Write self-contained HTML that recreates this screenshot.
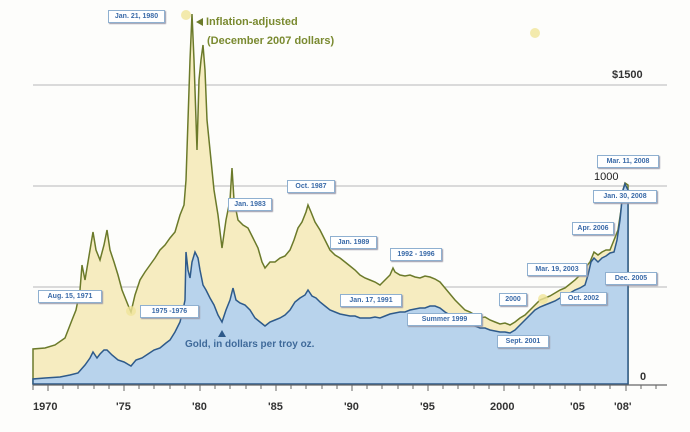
<!DOCTYPE html>
<html><head><meta charset="utf-8"><style>
body{margin:0;background:#fff;}
.b{position:absolute;background:#fff;border:1px solid #8fb0d0;box-shadow:1px 1px 1px #99a;color:#3a6aa8;font:bold 7px "Liberation Sans",sans-serif;line-height:11px;text-align:center;white-space:nowrap;}
.t{position:absolute;font-family:"Liberation Sans",sans-serif;font-weight:bold;white-space:nowrap;}
</style></head><body>
<div style="position:relative;width:690px;height:432px;overflow:hidden;background:#fdfdfb">
<svg width="690" height="432" style="position:absolute;left:0;top:0">
<g stroke="#b8b8b8" stroke-width="1">
<line x1="33" y1="85" x2="667" y2="85"/><line x1="33" y1="186" x2="667" y2="186"/><line x1="33" y1="287" x2="667" y2="287"/>
</g>
<polygon fill="#f6ecc0" stroke="#6b7a2a" stroke-width="1.5" points="33,384 33,349 45,348 55,345 65,338 72,320 76,310 78,300 80,290 82,265 85,280 88,262 93,232 96,250 100,260 104,245 107,230 110,250 114,262 118,275 122,290 128,305 131,312 135,295 140,280 145,272 150,265 155,258 160,250 165,245 170,238 175,232 180,215 184,205 186,180 188,120 190,60 192,14 194,60 196,120 197,150 199,80 201,60 203,45 205,70 207,120 210,150 214,190 218,215 222,248 226,220 230,200 232,168 234,200 238,220 243,225 248,228 253,238 258,248 262,262 265,268 270,262 275,262 280,258 285,256 290,250 294,240 298,228 302,222 306,212 308,205 311,212 315,222 320,230 325,240 330,250 335,255 340,258 345,262 350,266 355,270 360,275 365,278 370,280 375,282 380,285 385,280 390,275 393,268 395,272 400,275 405,276 410,275 415,277 420,278 425,276 430,277 435,279 440,282 445,288 450,294 455,300 460,305 465,310 470,312 475,315 480,318 485,317 490,320 495,322 500,324 505,323 510,325 515,322 520,318 525,315 530,310 535,305 540,300 545,298 550,296 555,293 560,290 565,288 570,284 575,280 580,275 585,268 590,262 594,252 598,255 602,252 606,250 610,250 614,240 618,230 621,210 623,190 625,183 628,185 628,384"/>
<polygon fill="#b8d3ec" stroke="#2e5a8a" stroke-width="1.5" points="33,384 33,379 45,378 60,377 70,375 78,373 85,365 90,358 93,352 97,358 100,354 104,350 107,350 112,355 118,360 124,362 131,366 136,360 142,358 148,354 154,350 160,348 166,343 170,340 175,332 180,322 183,310 185,300 186,252 188,270 190,278 192,262 195,252 198,258 200,270 203,285 206,290 210,298 214,305 218,315 222,322 226,310 230,300 233,288 236,300 240,303 245,305 250,310 255,318 260,322 265,326 270,322 275,320 280,318 285,315 290,310 295,302 300,298 305,295 308,290 312,296 316,298 320,302 325,306 330,310 335,312 340,314 345,315 350,316 355,316 360,318 365,318 370,318 375,317 380,318 385,316 390,314 395,313 400,312 405,312 410,310 415,309 420,308 425,308 430,306 435,306 440,308 445,312 450,315 455,318 460,320 465,322 470,324 475,326 480,328 485,328 490,330 495,331 500,332 505,332 510,333 515,330 520,325 525,320 530,315 535,310 540,307 545,305 550,303 555,301 560,298 565,296 570,293 575,290 580,288 585,285 588,275 591,262 594,258 598,262 602,258 606,256 610,253 614,252 617,240 620,220 623,190 625,184 628,190 628,384"/>
<line x1="33" y1="385" x2="667" y2="385" stroke="#666" stroke-width="1.2"/>
<g stroke="#666" stroke-width="1">
<line x1="33" y1="385" x2="33" y2="390"/><line x1="48" y1="385" x2="48" y2="391"/><line x1="63" y1="385" x2="63" y2="389"/><line x1="78" y1="385" x2="78" y2="389"/><line x1="94" y1="385" x2="94" y2="389"/><line x1="109" y1="385" x2="109" y2="389"/><line x1="124" y1="385" x2="124" y2="391"/><line x1="139" y1="385" x2="139" y2="389"/><line x1="154" y1="385" x2="154" y2="389"/><line x1="170" y1="385" x2="170" y2="389"/><line x1="185" y1="385" x2="185" y2="389"/><line x1="200" y1="385" x2="200" y2="391"/><line x1="215" y1="385" x2="215" y2="389"/><line x1="230" y1="385" x2="230" y2="389"/><line x1="246" y1="385" x2="246" y2="389"/><line x1="261" y1="385" x2="261" y2="389"/><line x1="276" y1="385" x2="276" y2="391"/><line x1="291" y1="385" x2="291" y2="389"/><line x1="306" y1="385" x2="306" y2="389"/><line x1="322" y1="385" x2="322" y2="389"/><line x1="337" y1="385" x2="337" y2="389"/><line x1="352" y1="385" x2="352" y2="391"/><line x1="367" y1="385" x2="367" y2="389"/><line x1="382" y1="385" x2="382" y2="389"/><line x1="398" y1="385" x2="398" y2="389"/><line x1="413" y1="385" x2="413" y2="389"/><line x1="428" y1="385" x2="428" y2="391"/><line x1="443" y1="385" x2="443" y2="389"/><line x1="458" y1="385" x2="458" y2="389"/><line x1="474" y1="385" x2="474" y2="389"/><line x1="489" y1="385" x2="489" y2="389"/><line x1="504" y1="385" x2="504" y2="391"/><line x1="519" y1="385" x2="519" y2="389"/><line x1="534" y1="385" x2="534" y2="389"/><line x1="550" y1="385" x2="550" y2="389"/><line x1="565" y1="385" x2="565" y2="389"/><line x1="580" y1="385" x2="580" y2="391"/><line x1="595" y1="385" x2="595" y2="389"/><line x1="610" y1="385" x2="610" y2="389"/><line x1="626" y1="385" x2="626" y2="391"/><line x1="641" y1="385" x2="641" y2="389"/><line x1="656" y1="385" x2="656" y2="389"/>
</g>
<polygon points="196,22 203,18 203,26" fill="#6b7a2a"/>
<polygon points="222,330 218,337 226,337" fill="#2e5a8a"/>
<g fill="#f0e59a" opacity="0.8"><circle cx="186" cy="15" r="5"/><circle cx="131" cy="311" r="5"/><circle cx="535" cy="33" r="5"/><circle cx="543" cy="299" r="5"/></g>
</svg>
<div class="t" style="left:206px;top:16px;font-size:11px;color:#7a8a30">Inflation-adjusted</div>
<div class="t" style="left:207px;top:35px;font-size:11px;color:#7a8a30">(December 2007 dollars)</div>
<div class="t" style="left:185px;top:339px;font-size:10px;color:#3f6a9a">Gold, in dollars per troy oz.</div>
<div class="t" style="left:612px;top:69px;font-size:11px;color:#333">$1500</div>
<div class="t" style="left:594px;top:171px;font-size:11px;color:#222;font-weight:normal">1000</div>
<div class="t" style="left:640px;top:371px;font-size:11px;color:#333">0</div>
<div class="t" style="left:33px;top:401px;font-size:11px;color:#333">1970</div>
<div class="t" style="left:116px;top:401px;font-size:11px;color:#333">'75</div>
<div class="t" style="left:192px;top:401px;font-size:11px;color:#333">'80</div>
<div class="t" style="left:268px;top:401px;font-size:11px;color:#333">'85</div>
<div class="t" style="left:344px;top:401px;font-size:11px;color:#333">'90</div>
<div class="t" style="left:420px;top:401px;font-size:11px;color:#333">'95</div>
<div class="t" style="left:490px;top:401px;font-size:11px;color:#333">2000</div>
<div class="t" style="left:570px;top:401px;font-size:11px;color:#333">'05</div>
<div class="t" style="left:614px;top:401px;font-size:11px;color:#333">'08'</div>
<div class="b" style="left:108px;top:10px;width:55px">Jan. 21, 1980</div>
<div class="b" style="left:38px;top:290px;width:62px">Aug. 15, 1971</div>
<div class="b" style="left:140px;top:305px;width:57px">1975 -1976</div>
<div class="b" style="left:228px;top:198px;width:42px">Jan. 1983</div>
<div class="b" style="left:287px;top:180px;width:46px">Oct. 1987</div>
<div class="b" style="left:330px;top:236px;width:45px">Jan. 1989</div>
<div class="b" style="left:390px;top:248px;width:50px">1992 - 1996</div>
<div class="b" style="left:340px;top:294px;width:60px">Jan. 17, 1991</div>
<div class="b" style="left:407px;top:313px;width:73px">Summer 1999</div>
<div class="b" style="left:499px;top:293px;width:26px">2000</div>
<div class="b" style="left:497px;top:335px;width:50px">Sept. 2001</div>
<div class="b" style="left:527px;top:263px;width:58px">Mar. 19, 2003</div>
<div class="b" style="left:560px;top:292px;width:45px">Oct. 2002</div>
<div class="b" style="left:605px;top:272px;width:50px">Dec. 2005</div>
<div class="b" style="left:572px;top:222px;width:40px">Apr. 2006</div>
<div class="b" style="left:593px;top:190px;width:62px">Jan. 30, 2008</div>
<div class="b" style="left:597px;top:155px;width:60px">Mar. 11, 2008</div>
</div>
</body></html>
